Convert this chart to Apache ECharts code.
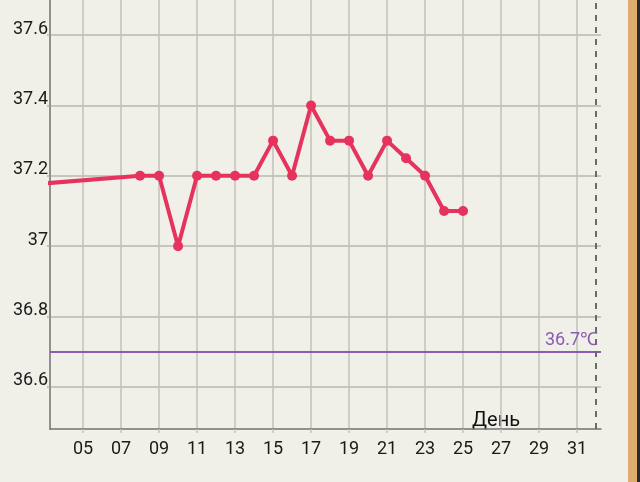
<!DOCTYPE html>
<html>
<head>
<meta charset="utf-8">
<script src="https://cdn.jsdelivr.net/npm/echarts@6/dist/echarts.min.js"></script>
<style>
html,body{margin:0;padding:0;background:#f0f0e8;}
#c{width:640px;height:482px;}
</style>
</head>
<body>
<div id="c"></div>
<script>
// Data
const days = [1, 8, 9, 10, 11, 12, 13, 14, 15, 16, 17, 18, 19, 20, 21, 22, 23, 24, 25];
const temps = [37.17, 37.2, 37.2, 37.0, 37.2, 37.2, 37.2, 37.2, 37.3, 37.2, 37.4, 37.3, 37.3, 37.2, 37.3, 37.25, 37.2, 37.1, 37.1];
const xTicks = [5, 7, 9, 11, 13, 15, 17, 19, 21, 23, 25, 27, 29, 31];
const yTicks = [36.6, 36.8, 37.0, 37.2, 37.4, 37.6];
const coverLine = 36.7;
const coverLabel = '36.7℃';
const cycleEndDay = 32;
const xName = 'День';

const chart = echarts.init(document.getElementById('c'), null, {renderer: 'canvas'});
const pad = n => (n < 10 ? '0' : '') + n;
chart.setOption({
  backgroundColor: '#f0f0e8',
  animation: false,
  textStyle: {fontFamily: 'Roboto'},
  grid: {left: 50, right: 39, top: 0, bottom: 53, containLabel: false},
  xAxis: {
    type: 'value', min: 3.26, max: 32.26,
    axisLine: {show: true, lineStyle: {color: '#707070', width: 1.5}},
    axisTick: {show: true, length: 4, customValues: xTicks, lineStyle: {color: '#c2c2ba', width: 1.5}},
    axisLabel: {customValues: xTicks, formatter: v => pad(Math.round(v)), color: '#1a1a1a', fontSize: 18, margin: 11, fontFamily: 'Roboto'},
    splitLine: {show: true, lineStyle: {color: '#c2c2ba', width: 1.5}}
  },
  yAxis: {
    type: 'value', min: 36.48, max: 37.7,
    axisLine: {show: true, lineStyle: {color: '#707070', width: 1.5}},
    axisTick: {show: true, length: 3, customValues: yTicks, lineStyle: {color: '#b0b0a8', width: 1.5}},
    axisLabel: {customValues: yTicks, formatter: v => String(Math.round(v * 10) / 10), color: '#1a1a1a', fontSize: 18, margin: 2, verticalAlign: 'bottom', lineHeight: 12, fontFamily: 'Roboto'},
    splitLine: {show: true, lineStyle: {color: '#b8b8b0', width: 1.5}}
  },
  graphic: [
    {type: 'rect', shape: {x: 628, y: 0, width: 9, height: 482}, style: {fill: '#dfac70'}},
    {type: 'rect', shape: {x: 637, y: 0, width: 3, height: 482}, style: {fill: '#2a2a2a'}},
    {type: 'text', left: 472, top: 411, style: {text: xName, fontSize: 20, fill: '#111', fontFamily: 'Roboto'}}
  ],
  series: [{
    type: 'line',
    data: days.map((d, i) => [d, temps[i]]),
    clip: true,
    lineStyle: {color: '#e6335e', width: 4},
    itemStyle: {color: '#e6335e'},
    symbol: 'circle', symbolSize: 10,
    showAllSymbol: true,
    markLine: {
      silent: true, symbol: 'none',
      data: [
        {yAxis: coverLine, lineStyle: {color: '#8a5cb4', width: 2, type: 'solid'},
          label: {show: true, position: 'insideEndTop', formatter: coverLabel, color: '#8a5cb4', fontSize: 18, distance: [3, 2], fontFamily: 'Roboto'}},
        {xAxis: cycleEndDay, lineStyle: {color: '#6a6a6a', width: 2, type: [6, 6]}, label: {show: false}}
      ]
    }
  }]
});
</script>
</body>
</html>
